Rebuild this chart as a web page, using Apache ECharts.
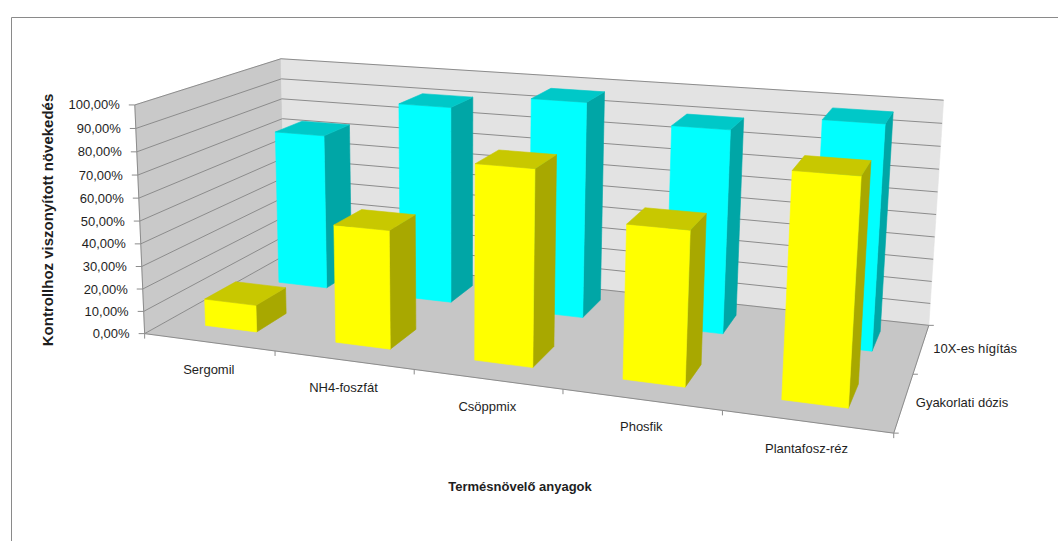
<!DOCTYPE html>
<html><head><meta charset="utf-8">
<script src="https://cdn.jsdelivr.net/npm/echarts@6/dist/echarts.min.js"></script>
<style>html,body{margin:0;padding:0;background:#fff}#c{width:1058px;height:541px}</style>
</head><body><div id="c"></div>
<script>
// ---------- data ----------
const categories = ['Sergomil', 'NH4-foszfát', 'Csöppmix', 'Phosfik', 'Plantafosz-réz'];
const seriesNames = ['Gyakorlati dózis', '10X-es hígítás'];
const gyakorlatiDozis = [0.12, 0.513, 0.825, 0.635, 0.90];
const tizXesHigitas = [0.73, 0.905, 0.97, 0.895, 0.965];
const valueTicks = [0, 0.1, 0.2, 0.3, 0.4, 0.5, 0.6, 0.7, 0.8, 0.9, 1.0];
const valueTickLabels = ['0,00%', '10,00%', '20,00%', '30,00%', '40,00%', '50,00%', '60,00%', '70,00%', '80,00%', '90,00%', '100,00%'];
const yAxisTitle = 'Kontrollhoz viszonyított növekedés';
const xAxisTitle = 'Termésnövelő anyagok';

// ---------- layout (3D frame camera) ----------
const N = categories.length, ROWS = 2;
const ROW_Z = [0.5, 1.55];
const BAR_W = 0.4, BAR_D = 0.42;
// [X, Y, Z, screenX, screenY] anchor corners of the chart box
const anchors = [
  [0, 0, 0, 147, 332], [0, 1, 0, 133, 105], [0, 1, 2, 283, 58], [0, 0, 2, 283, 257],
  [5, 1, 2, 943, 101], [5, 0, 2, 930, 323], [5, 0, 0, 893, 435]
];
const CU = 500, CV = 270;
function fitCamera(pts) {
  const n = 11, M = Array.from({length: n}, () => new Array(n + 1).fill(0));
  const rows = [];
  for (const [X, Y, Z, u0, v0] of pts) {
    const u = (u0 - CU) / CU, v = (v0 - CV) / CV;
    rows.push([[X, Y, Z, 1, 0, 0, 0, 0, -u * X, -u * Y, -u * Z], u]);
    rows.push([[0, 0, 0, 0, X, Y, Z, 1, -v * X, -v * Y, -v * Z], v]);
  }
  for (const [a, b] of rows) for (let i = 0; i < n; i++) { for (let j = 0; j < n; j++) M[i][j] += a[i] * a[j]; M[i][n] += a[i] * b; }
  for (let c = 0; c < n; c++) {
    let p = c; for (let r = c + 1; r < n; r++) if (Math.abs(M[r][c]) > Math.abs(M[p][c])) p = r;
    const t = M[c]; M[c] = M[p]; M[p] = t;
    for (let r = 0; r < n; r++) { if (r === c) continue; const f = M[r][c] / M[c][c]; for (let k = c; k <= n; k++) M[r][k] -= f * M[c][k]; }
  }
  return M.map((row, i) => row[n] / row[i]);
}
const CAM = fitCamera(anchors);
function proj(X, Y, Z) {
  const p = CAM, w = p[8] * X + p[9] * Y + p[10] * Z + 1;
  return [((p[0] * X + p[1] * Y + p[2] * Z + p[3]) / w) * CU + CU, ((p[4] * X + p[5] * Y + p[6] * Z + p[7]) / w) * CV + CV];
}

const GRID = '#8c8c8c', TXT = '#1e1e1e', FONT = '"Liberation Sans", Arial, sans-serif';
const colors = [
  {front: '#ffff00', top: '#c8c800', side: '#a8a800'},
  {front: '#00ffff', top: '#00c8c8', side: '#00a6a6'}
];
function poly(pts, fill, stroke) {
  return {type: 'polygon', shape: {points: pts}, style: {fill: fill, stroke: stroke || fill, lineWidth: 0.6}};
}
function line(pts, color, w) {
  return {type: 'polyline', shape: {points: pts}, style: {fill: null, stroke: color || GRID, lineWidth: w || 1}};
}
function txt(x, y, s, align, vAlign, size, weight, rot) {
  return {type: 'text', x: x, y: y, rotation: rot || 0,
    style: {text: s, fill: TXT, fontSize: size || 13, fontWeight: weight || 'normal', fontFamily: FONT, align: align, verticalAlign: vAlign}};
}

function toWorld(params, api, cat, val) {
  const cs = params.coordSys;
  const c = api.coord([cat, val]);
  return [(c[0] - cs.x) / cs.width * N, (cs.y + cs.height - c[1]) / cs.height];
}

function frameRender(params, api) {
  const ch = [];
  const D = ROWS;
  ch.push(poly([proj(0, 0, 0), proj(0, 1, 0), proj(0, 1, D), proj(0, 0, D)], '#c9c9c9'));
  ch.push(poly([proj(0, 0, D), proj(N, 0, D), proj(N, 1, D), proj(0, 1, D)], '#e3e3e3'));
  ch.push(poly([proj(0, 0, 0), proj(N, 0, 0), proj(N, 0, D), proj(0, 0, D)], '#c6c6c6'));
  valueTicks.forEach((t, i) => {
    const Y = toWorld(params, api, 0, t)[1];
    ch.push(line([proj(0, Y, 0), proj(0, Y, D), proj(N, Y, D)]));
    const a = proj(0, Y, 0);
    ch.push(line([[a[0] - 6, a[1]], a]));
    ch.push(txt(a[0] - 15, a[1], valueTickLabels[i], 'right', 'middle'));
  });
  ch.push(line([proj(0, 0, 0), proj(0, 1, 0)]));
  // category axis
  ch.push(line([proj(0, 0, 0), proj(N, 0, 0)]));
  for (let i = 0; i <= N; i++) { const a = proj(i, 0, 0); ch.push(line([a, [a[0], a[1] + 5]])); }
  categories.forEach((c, i) => {
    const X = toWorld(params, api, i, 0)[0];
    const a = proj(X, 0, 0);
    ch.push(txt(a[0], a[1] + 27, c, 'center', 'middle'));
  });
  // depth axis
  ch.push(line([proj(N, 0, 0), proj(N, 0, D)]));
  for (let r = 0; r <= D; r++) { const a = proj(N, 0, r); ch.push(line([a, [a[0] + 5, a[1]]])); }
  seriesNames.forEach((s, r) => {
    const a = proj(N, 0, r + 0.5);
    ch.push(txt(a[0] + 12, a[1], s, 'left', 'middle'));
  });
  ch.push(txt(47, 220, yAxisTitle, 'center', 'middle', 15, 'bold', Math.PI / 2));
  ch.push(txt(520, 486, xAxisTitle, 'center', 'middle', 13, 'bold'));
  return {type: 'group', children: ch};
}

function barRender(row) {
  const col = colors[row];
  return function (params, api) {
    const cs = params.coordSys;
    const cat = api.value(0), val = api.value(1);
    const w = toWorld(params, api, cat, val);
    const Xc = w[0], Y = w[1];
    const bw = api.size([1, 0])[0] / cs.width * N * BAR_W / 2;
    const zc = ROW_Z[row], z0 = zc - BAR_D / 2, z1 = zc + BAR_D / 2;
    const x0 = Xc - bw, x1 = Xc + bw;
    const front = [proj(x0, 0, z0), proj(x1, 0, z0), proj(x1, Y, z0), proj(x0, Y, z0)];
    const top = [proj(x0, Y, z0), proj(x1, Y, z0), proj(x1, Y, z1), proj(x0, Y, z1)];
    const side = [proj(x1, 0, z0), proj(x1, 0, z1), proj(x1, Y, z1), proj(x1, Y, z0)];
    return {type: 'group', children: [poly(side, col.side), poly(front, col.front), poly(top, col.top)]};
  };
}

const chart = echarts.init(document.getElementById('c'), null, {renderer: 'svg'});
chart.setOption({
  animation: false,
  backgroundColor: '#ffffff',
  grid: {left: 100, top: 100, width: 500, height: 100, show: false},
  xAxis: {type: 'category', data: categories, show: false},
  yAxis: {type: 'value', min: 0, max: 1, interval: 0.1, show: false},
  graphic: [{type: 'rect', left: 9, top: 15, shape: {width: 1100, height: 600}, style: {fill: null, stroke: '#8a8a8a', lineWidth: 1}, z: -10}],
  series: [
    {type: 'custom', name: 'frame', clip: false, silent: true, data: [[0, 0]], renderItem: frameRender, z: 1},
    {type: 'custom', name: seriesNames[1], clip: false, data: tizXesHigitas.map((v, i) => [i, v]), renderItem: barRender(1), z: 2},
    {type: 'custom', name: seriesNames[0], clip: false, data: gyakorlatiDozis.map((v, i) => [i, v]), renderItem: barRender(0), z: 3}
  ]
});
</script></body></html>
